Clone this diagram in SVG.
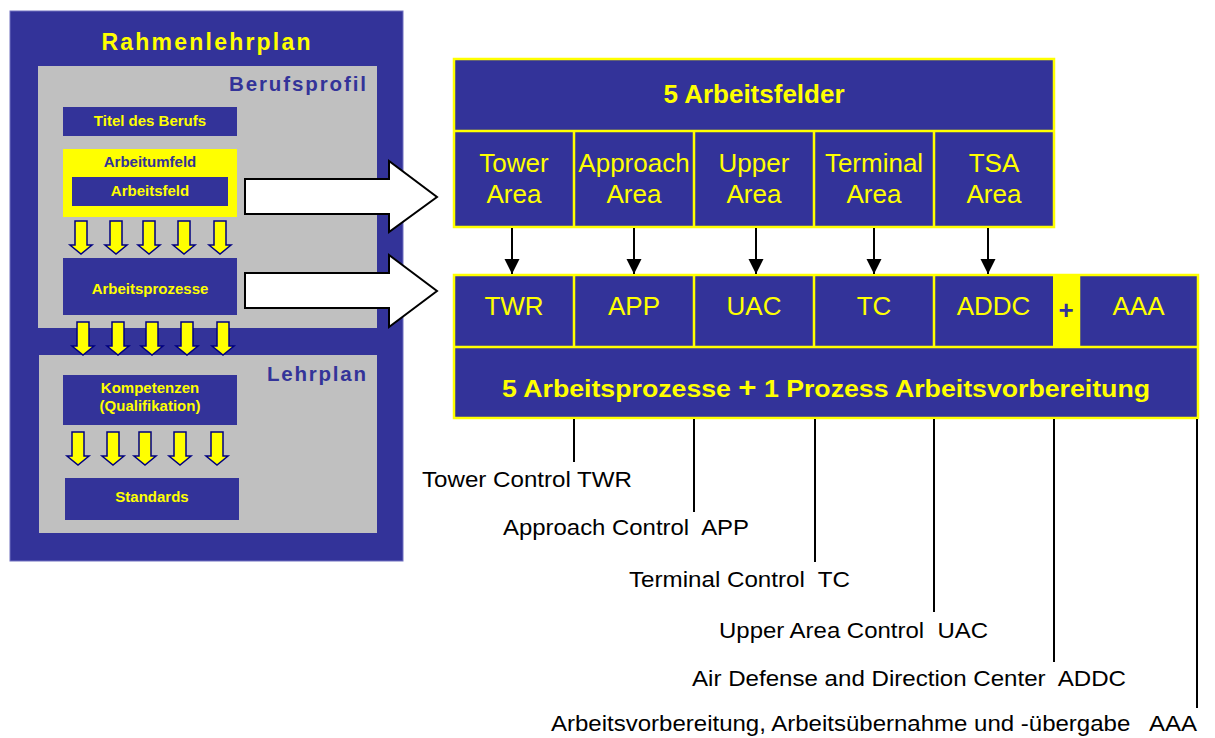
<svg xmlns="http://www.w3.org/2000/svg" width="1215" height="738" viewBox="0 0 1215 738">
<style>
text{font-family:"Liberation Sans",Arial,sans-serif}
.b{fill:#333399}
.g{fill:#C0C0C0}
.yt{fill:#FFFF00;font-weight:bold}
.bt{fill:#333399;font-weight:bold}
.cell{fill:#FFFF00;font-size:26px;text-anchor:middle}
.lbl{fill:#000;font-size:22.5px;white-space:pre}
.tbl{fill:#333399;stroke:#FFFF00;stroke-width:2.5}
.grid{stroke:#FFFF00;stroke-width:2.5;fill:none}
.con{stroke:#000;stroke-width:2;fill:none}
.big{fill:#fff;stroke:#000;stroke-width:2}
</style>
<defs>
<path id="ya" d="M-6,0 H6 V24 H11 L0,33 L-11,24 H-6 Z" fill="#FFFF00" stroke="#000080" stroke-width="1.5" stroke-linejoin="miter"/>
<marker id="ah" markerUnits="userSpaceOnUse" markerWidth="16" markerHeight="16" refX="15" refY="7.5" orient="auto" viewBox="0 0 16 16">
<path d="M0,0 L15,7.5 L0,15 Z" fill="#000"/>
</marker>
</defs>
<rect x="0" y="0" width="1215" height="738" fill="#fff"/>

<g id="rahmenlehrplan">
<rect x="10" y="11" width="393" height="550" class="b" stroke="#7070c0" stroke-width="1"/>
<text x="206" y="50" class="yt" font-size="23" text-anchor="middle" textLength="209" lengthAdjust="spacing">Rahmenlehrplan</text>
</g>

<g id="berufsprofil">
<rect x="38" y="66" width="339" height="262" class="g"/>
<text x="366" y="91" class="bt" font-size="20.5" text-anchor="end" textLength="137" lengthAdjust="spacing">Berufsprofil</text>
</g>

<g id="titel">
<rect x="63" y="107" width="174" height="29" class="b"/>
<text x="150" y="126" class="yt" font-size="15" text-anchor="middle">Titel des Berufs</text>
</g>

<g id="arbeitumfeld">
<rect x="63" y="149" width="174" height="68" fill="#FFFF00"/>
<text x="150" y="167" class="bt" font-size="15" text-anchor="middle">Arbeitumfeld</text>
</g>

<g id="arbeitsfeld">
<rect x="72" y="177" width="156" height="29" class="b"/>
<text x="150" y="196" class="yt" font-size="15" text-anchor="middle">Arbeitsfeld</text>
</g>

<g id="arrows-row1">
<use href="#ya" x="81" y="221"/><use href="#ya" x="116" y="221"/><use href="#ya" x="149" y="221"/><use href="#ya" x="184" y="221"/><use href="#ya" x="220" y="221"/>
</g>

<g id="arbeitsprozesse">
<rect x="63" y="258" width="174" height="57" class="b"/>
<text x="150" y="294" class="yt" font-size="15" text-anchor="middle">Arbeitsprozesse</text>
</g>

<g id="lehrplan">
<rect x="39" y="355" width="338" height="178" class="g"/>
<text x="366" y="381" class="bt" font-size="20.5" text-anchor="end" textLength="99" lengthAdjust="spacing">Lehrplan</text>
</g>

<g id="arrows-row2">
<use href="#ya" x="83" y="322"/><use href="#ya" x="118" y="322"/><use href="#ya" x="152" y="322"/><use href="#ya" x="187" y="322"/><use href="#ya" x="223" y="322"/>
</g>

<g id="kompetenzen">
<rect x="63" y="375" width="174" height="50" class="b"/>
<text x="150" y="393" class="yt" font-size="15" text-anchor="middle">Kompetenzen</text>
<text x="150" y="411" class="yt" font-size="15" text-anchor="middle">(Qualifikation)</text>
</g>

<g id="arrows-row3">
<use href="#ya" x="78" y="432"/><use href="#ya" x="113" y="432"/><use href="#ya" x="145" y="432"/><use href="#ya" x="180" y="432"/><use href="#ya" x="217" y="432"/>
</g>

<g id="standards">
<rect x="65" y="478" width="174" height="42" class="b"/>
<text x="152" y="502" class="yt" font-size="15" text-anchor="middle">Standards</text>
</g>

<g id="big-arrows">
<path class="big" d="M245,179 H389 V161 L437,197 L389,232 V214 H245 Z"/>
<path class="big" d="M245,273 H389 V255 L437,291 L389,327 V308 H245 Z"/>
</g>

<g id="arbeitsfelder">
<rect x="454" y="59" width="600" height="168" class="tbl"/>
<path class="grid" d="M454,131 H1054 M574,131 V227 M694,131 V227 M814,131 V227 M934,131 V227"/>
<text x="754" y="103" class="yt" font-size="26" text-anchor="middle">5 Arbeitsfelder</text>
<text class="cell" x="514" y="172">Tower</text><text class="cell" x="514" y="203">Area</text>
<text class="cell" x="634" y="172">Approach</text><text class="cell" x="634" y="203">Area</text>
<text class="cell" x="754" y="172">Upper</text><text class="cell" x="754" y="203">Area</text>
<text class="cell" x="874" y="172">Terminal</text><text class="cell" x="874" y="203">Area</text>
<text class="cell" x="994" y="172">TSA</text><text class="cell" x="994" y="203">Area</text>
</g>

<g id="arbeitsprozesse-table">
<rect x="454" y="275" width="744" height="143" class="tbl"/>
<rect x="1053" y="276" width="26" height="71" fill="#FFFF00"/>
<path class="grid" d="M454,347 H1198 M574,275 V347 M694,275 V347 M814,275 V347 M934,275 V347 M1079,275 V347"/>
<text x="1066" y="319" class="bt" font-size="26" text-anchor="middle">+</text>
<text class="cell" x="514" y="315">TWR</text>
<text class="cell" x="634" y="315">APP</text>
<text class="cell" x="754" y="315">UAC</text>
<text class="cell" x="874" y="315">TC</text>
<text class="cell" x="993.5" y="315">ADDC</text>
<text class="cell" x="1138.5" y="315">AAA</text>
<text x="826" y="397" class="yt" font-size="24" text-anchor="middle" textLength="648" lengthAdjust="spacingAndGlyphs">5 Arbeitsprozesse <tspan font-size="28">+</tspan> 1 Prozess Arbeitsvorbereitung</text>
</g>

<g id="connectors">
<line class="con" x1="512" y1="228" x2="512" y2="274" marker-end="url(#ah)"/>
<line class="con" x1="634" y1="228" x2="634" y2="274" marker-end="url(#ah)"/>
<line class="con" x1="756" y1="228" x2="756" y2="274" marker-end="url(#ah)"/>
<line class="con" x1="874" y1="228" x2="874" y2="274" marker-end="url(#ah)"/>
<line class="con" x1="988" y1="228" x2="988" y2="274" marker-end="url(#ah)"/>
<line class="con" x1="574" y1="419" x2="574" y2="462"/>
<line class="con" x1="694" y1="419" x2="694" y2="512"/>
<line class="con" x1="815" y1="419" x2="815" y2="562"/>
<line class="con" x1="934" y1="419" x2="934" y2="612"/>
<line class="con" x1="1054" y1="419" x2="1054" y2="662"/>
<line class="con" x1="1197" y1="419" x2="1197" y2="708"/>
</g>

<g id="labels">
<text class="lbl" x="422" y="487" textLength="210" lengthAdjust="spacingAndGlyphs">Tower Control TWR</text>
<text class="lbl" x="503" y="535" textLength="246" lengthAdjust="spacingAndGlyphs">Approach Control  APP</text>
<text class="lbl" x="629" y="587" textLength="221" lengthAdjust="spacingAndGlyphs">Terminal Control  TC</text>
<text class="lbl" x="719" y="638" textLength="269" lengthAdjust="spacingAndGlyphs">Upper Area Control  UAC</text>
<text class="lbl" x="692" y="686" textLength="434" lengthAdjust="spacingAndGlyphs">Air Defense and Direction Center  ADDC</text>
<text class="lbl" x="551" y="731" textLength="646" lengthAdjust="spacingAndGlyphs">Arbeitsvorbereitung, Arbeitsübernahme und -übergabe   AAA</text>
</g>
</svg>
